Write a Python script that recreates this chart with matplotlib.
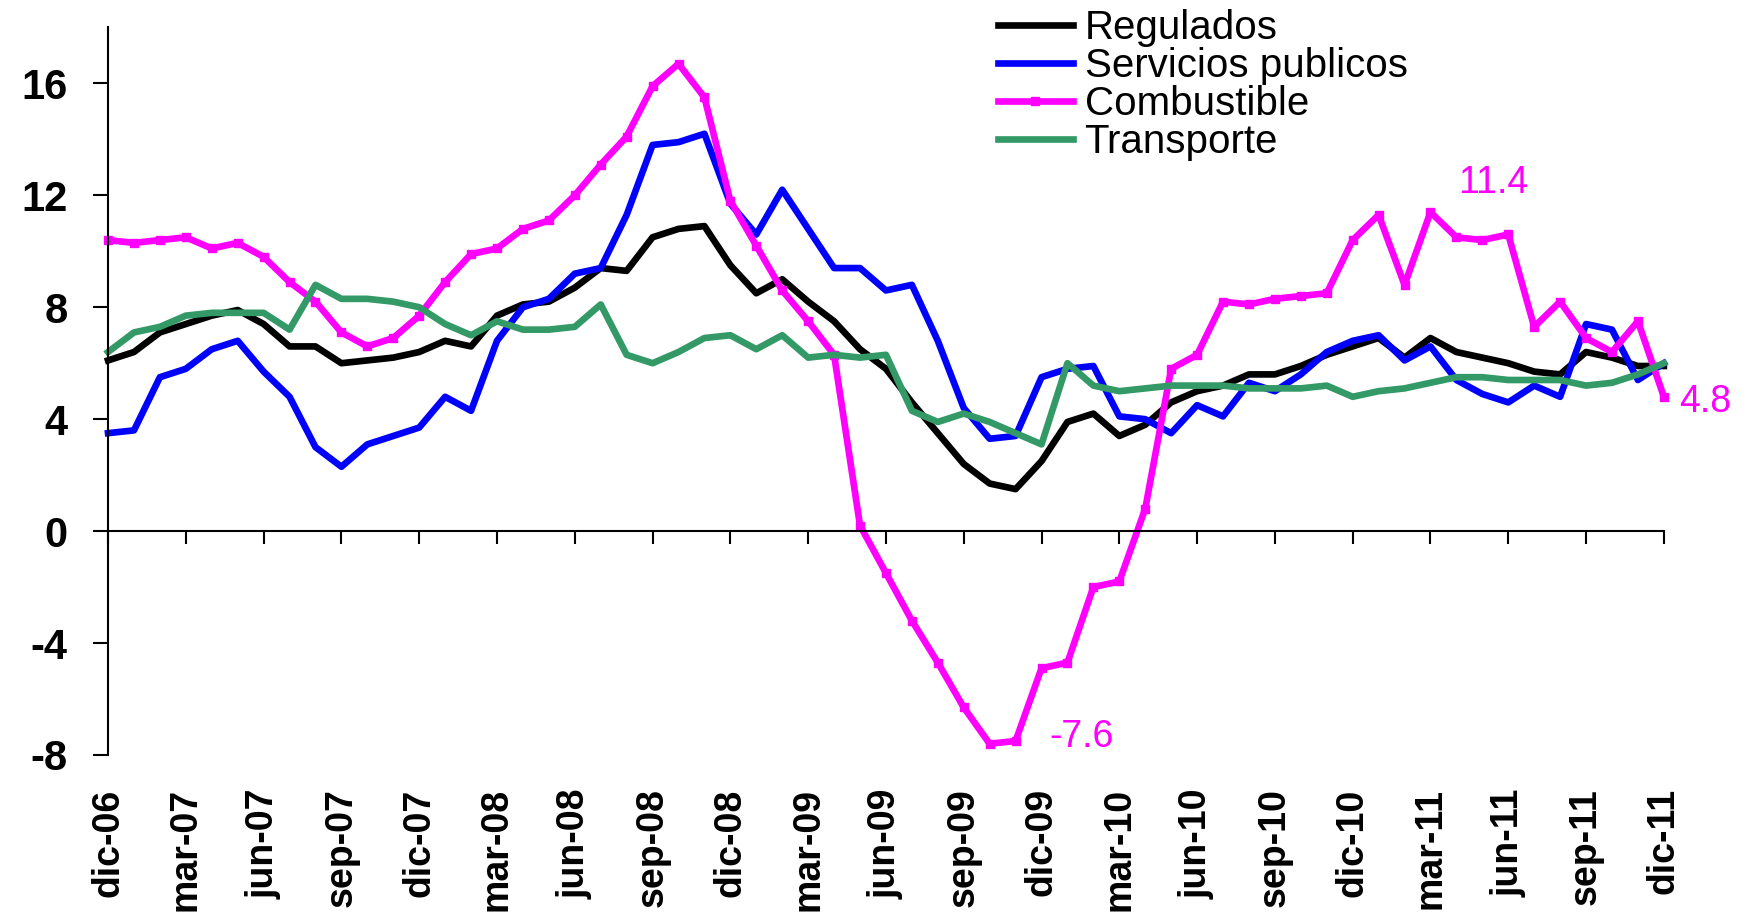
import matplotlib
matplotlib.use("Agg")
import matplotlib.pyplot as plt

plt.rcParams['font.family'] = ['Liberation Sans', 'DejaVu Sans']
plt.rcParams['axes.unicode_minus'] = False

# monthly series, dic-06 .. dic-11
regulados = [6.1, 6.4, 7.1, 7.4, 7.7, 7.9, 7.4, 6.6, 6.6, 6.0, 6.1,
             6.2, 6.4, 6.8, 6.6, 7.7, 8.1, 8.2, 8.7, 9.4, 9.3,
             10.5, 10.8, 10.9, 9.5, 8.5, 9.0, 8.2, 7.5, 6.5, 5.8,
             4.6, 3.5, 2.4, 1.7, 1.5, 2.5, 3.9, 4.2, 3.4, 3.8,
             4.6, 5.0, 5.2, 5.6, 5.6, 5.9, 6.3, 6.6, 6.9, 6.2,
             6.9, 6.4, 6.2, 6.0, 5.7, 5.6, 6.4, 6.2, 5.9, 5.9]
servicios = [3.5, 3.6, 5.5, 5.8, 6.5, 6.8, 5.7, 4.8, 3.0, 2.3, 3.1,
             3.4, 3.7, 4.8, 4.3, 6.8, 8.0, 8.3, 9.2, 9.4, 11.3,
             13.8, 13.9, 14.2, 11.7, 10.6, 12.2, 10.8, 9.4, 9.4, 8.6,
             8.8, 6.8, 4.4, 3.3, 3.4, 5.5, 5.8, 5.9, 4.1, 4.0,
             3.5, 4.5, 4.1, 5.3, 5.0, 5.6, 6.4, 6.8, 7.0, 6.1,
             6.6, 5.4, 4.9, 4.6, 5.2, 4.8, 7.4, 7.2, 5.4, 6.0]
combustible = [10.4, 10.3, 10.4, 10.5, 10.1, 10.3, 9.8, 8.9, 8.2, 7.1, 6.6,
               6.9, 7.7, 8.9, 9.9, 10.1, 10.8, 11.1, 12.0, 13.1, 14.1,
               15.9, 16.7, 15.5, 11.8, 10.2, 8.6, 7.5, 6.3, 0.2, -1.5,
               -3.2, -4.7, -6.3, -7.6, -7.5, -4.9, -4.7, -2.0, -1.8, 0.8,
               5.8, 6.3, 8.2, 8.1, 8.3, 8.4, 8.5, 10.4, 11.3, 8.8,
               11.4, 10.5, 10.4, 10.6, 7.3, 8.2, 6.9, 6.4, 7.5, 4.8]
transporte = [6.4, 7.1, 7.3, 7.7, 7.8, 7.8, 7.8, 7.2, 8.8, 8.3, 8.3,
              8.2, 8.0, 7.4, 7.0, 7.5, 7.2, 7.2, 7.3, 8.1, 6.3,
              6.0, 6.4, 6.9, 7.0, 6.5, 7.0, 6.2, 6.3, 6.2, 6.3,
              4.3, 3.9, 4.2, 3.9, 3.5, 3.1, 6.0, 5.2, 5.0, 5.1,
              5.2, 5.2, 5.2, 5.1, 5.1, 5.1, 5.2, 4.8, 5.0, 5.1,
              5.3, 5.5, 5.5, 5.4, 5.4, 5.4, 5.2, 5.3, 5.6, 6.0]

tick_labels = ["dic-06", "mar-07", "jun-07", "sep-07", "dic-07", "mar-08", "jun-08",
               "sep-08", "dic-08", "mar-09", "jun-09", "sep-09", "dic-09", "mar-10",
               "jun-10", "sep-10", "dic-10", "mar-11", "jun-11", "sep-11", "dic-11"]

# annotated points of Combustible: (index, text)
notes = [(51, "11.4"), (34, "-7.6"), (60, "4.8")]
note_offsets = [(20, 14), (43, -2), (11, -11)]

x = list(range(len(regulados)))
tick_pos = list(range(0, len(regulados), 3))

fig = plt.figure(figsize=(17.54, 9.14), dpi=100)
ax = fig.add_axes([0.0616, 0.174, 0.887, 0.796])

lw = 4.8
ax.plot(x, regulados, color="black", lw=lw, label="Regulados", clip_on=False)
ax.plot(x, servicios, color="#0000FF", lw=lw, label="Servicios publicos", clip_on=False)
ax.plot(x, combustible, color="#FF00FF", lw=lw, marker="s", ms=5.5,
        label="Combustible", clip_on=False)
ax.plot(x, transporte, color="#339966", lw=lw, label="Transporte", clip_on=False)

for (i, txt), off in zip(notes, note_offsets):
    ax.annotate(txt, xy=(i, combustible[i]), xytext=off, textcoords="offset points",
                ha="left", va="baseline", color="#FF00FF", fontsize=27)

ax.set_xlim(0, 60)
ax.set_ylim(-8, 18)
ax.set_yticks(range(-8, 17, 4))
for lab in ax.get_yticklabels():
    lab.set_fontweight("bold")
ax.tick_params(axis="y", direction="out", length=11, width=1.5, labelsize=30, pad=18)

ax.spines["top"].set_visible(False)
ax.spines["right"].set_visible(False)
ax.spines["left"].set_linewidth(1.5)
ax.spines["bottom"].set_position(("data", 0))
ax.spines["bottom"].set_linewidth(1.5)
ax.set_xticks(tick_pos)
ax.tick_params(axis="x", direction="out", length=9, width=1.5, labelbottom=False)

sec = ax.secondary_xaxis("bottom")
sec.spines["bottom"].set_visible(False)
sec.set_xticks(tick_pos)
sec.set_xticklabels(tick_labels, rotation=90, fontweight="bold", fontsize=27)
sec.tick_params(axis="x", length=0, pad=24)

ax.legend(loc="upper left", bbox_to_anchor=(0.569, 0.99), bbox_transform=fig.transFigure,
          frameon=False, fontsize=29, handlelength=1.85, handletextpad=0.3,
          labelspacing=0.0, borderpad=0, borderaxespad=0)

fig.savefig("out.png", dpi=100)
